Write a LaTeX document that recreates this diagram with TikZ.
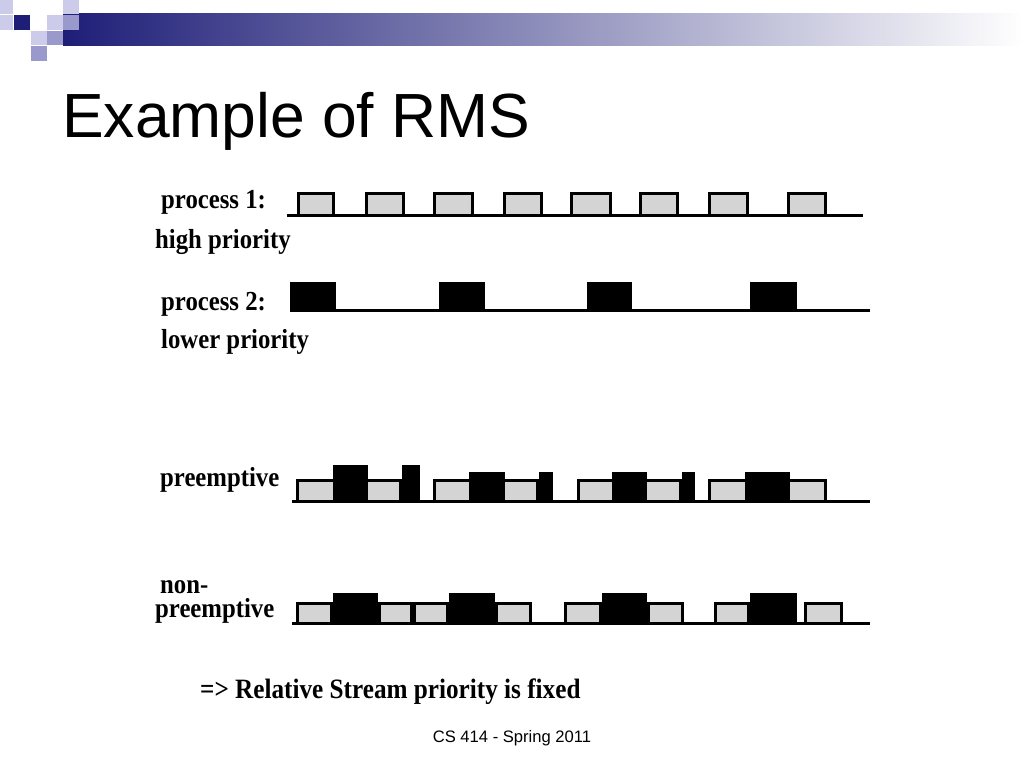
\documentclass[tikz,border=0pt]{standalone}
\usepackage{fontspec}
\setmainfont{Liberation Serif}
\newfontfamily\slidefont{Liberation Sans}
\newfontfamily\chartfont{Liberation Serif}[FakeStretch=0.9]
\definecolor{slotgray}{RGB}{212,212,212}
\definecolor{barnavy}{RGB}{30,30,120}
\definecolor{barmid}{RGB}{165,165,188}
\definecolor{sqlight}{RGB}{204,204,234}
\definecolor{sqmid}{RGB}{153,153,204}
\tikzstyle{row label}=[anchor=base west, inner sep=0pt, font=\chartfont\fontsize{27.5}{30}\selectfont\bfseries]
\tikzstyle{high slot}=[draw, fill=slotgray, line width=3pt]
\tikzstyle{low slot}=[fill=black]
\tikzstyle{time line}=[line width=3pt]

\begin{document}
\begin{tikzpicture}[x=1pt, y=-1pt]
  \useasboundingbox (0,0) rectangle (1024,768);
  % slide header
  \shade[left color=barnavy, middle color=barmid, right color=white] (63,14) rectangle (1024,46);
  \fill[sqlight] (0,0) rectangle (13,14);
  \fill[sqlight] (0,15) rectangle (13,30);
  \fill[sqlight] (63,0) rectangle (79,14);
  \fill[barnavy] (14,15) rectangle (30,30);
  \fill[sqlight] (47,15) rectangle (63,30);
  \fill[sqmid] (63,15) rectangle (79,30);
  \fill[sqlight] (31,31) rectangle (47,45);
  \fill[sqmid] (47,31) rectangle (63,45);
  \fill[sqmid] (31,46) rectangle (47,61);
  \node[anchor=base west, inner sep=0pt, font=\slidefont\fontsize{62.4}{70}\selectfont] (title) at (62,137) {Example of RMS};

  % labels
  \node[row label] (p1 name) at (161,208) {process 1:};
  \node[row label] (p1 prio) at (155,248) {high priority};
  \node[row label] (p2 name) at (161,310) {process 2:};
  \node[row label] (p2 prio) at (161,348) {lower priority};
  \node[row label] (pre name) at (160,486) {preemptive};
  \node[row label, align=left, font=\chartfont\fontsize{27.5}{24}\selectfont\bfseries] (np name) at (155,617) {\hspace*{5pt}non-\\preemptive};

  % process 1
  \foreach \a/\b in {297/335,365/405,433/474,503/543,570/612,639/679,708/749,787/827}
    \draw[high slot] (\a+1.5,193.5) rectangle (\b-1.5,215);
  \draw[time line] (287,215) -- (863,215);

  % process 2
  \foreach \a/\b in {290/336,439/485,587/632,750/797}
    \fill[low slot] (\a,282) rectangle (\b,310);
  \draw[time line] (290,310.5) -- (870,310.5);

  % preemptive
  \foreach \a/\b in {296/402,433/539,577/682,708/827}
    \draw[high slot] (\a+1.5,480.5) rectangle (\b-1.5,501);
  \foreach \a/\b/\t in {333/368/465,402/420/465,469/505/472,539/553/472,612/647/472,682/695/472,745/790/472}
    \fill[low slot] (\a,\t) rectangle (\b,501);
  \draw[time line] (292,501) -- (870,501);

  % non-preemptive
  \foreach \a/\b in {296/333,378/413,413/449,495/532,564/602,647/684,714/750,804/843}
    \draw[high slot] (\a+1.5,603.5) rectangle (\b-1.5,623);
  \foreach \a/\b in {333/378,449/495,602/647,750/797}
    \fill[low slot] (\a,593) rectangle (\b,623);
  \draw[time line] (292,623) -- (870,623);

  \node[row label, font=\chartfont\fontsize{28}{30}\selectfont\bfseries] (note) at (200,698) {=> Relative Stream priority is fixed};
  \node[anchor=base, inner sep=0pt, font=\slidefont\fontsize{16.6}{18}\selectfont] (footer) at (512,742) {CS 414 - Spring 2011};
\end{tikzpicture}
\end{document}
